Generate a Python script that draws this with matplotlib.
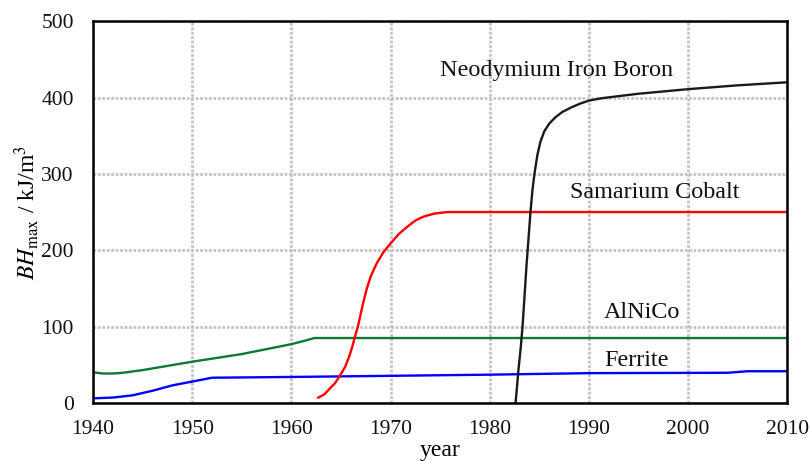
import matplotlib

matplotlib.use("Agg")

import matplotlib.pyplot as plt

plt.rcParams["font.family"] = "Liberation Serif"
plt.rcParams["mathtext.fontset"] = "stix"

# energy product history, kJ/m^3
ferrite_year = [1940, 1942, 1944, 1946, 1948, 1950, 1952, 1960, 1970, 1980, 1990, 2004, 2006, 2010]
ferrite_bh = [6, 7, 10, 16, 23, 28, 33, 34, 35.5, 37, 39, 39.5, 41.5, 41.5]

alnico_year = [1940, 1941, 1942, 1943, 1945, 1950, 1955, 1960, 1961.5, 1962.3, 1970, 1990, 2010]
alnico_bh = [40, 38.5, 38.5, 39.5, 43, 54, 64, 77, 82, 85, 85, 85, 85]

smco_year = [1962.7, 1963.3, 1963.8, 1964.4, 1964.9, 1965.4, 1965.8, 1966.1,
             1966.4, 1966.7, 1967.0, 1967.3, 1967.6, 1968.0, 1968.6, 1969.3,
             1970.0, 1970.8, 1971.7, 1972.5, 1973.3, 1974.4, 1975.7, 1990, 2010]
smco_bh = [7, 11, 18, 26, 36, 47, 60, 72, 87, 100, 118, 135, 150, 166, 183, 198,
           209, 221, 231, 239, 244, 248, 250, 250, 250]

ndfeb_year = [1982.6, 1982.9, 1983.1, 1983.3, 1983.5, 1983.7, 1983.9, 1984.1,
              1984.3, 1984.5, 1984.8, 1985.1, 1985.5, 1986.0, 1986.6, 1987.3,
              1988.2, 1989.1, 1990.0, 1991.2, 1995, 2000, 2005, 2010]
ndfeb_bh = [0, 45, 70, 100, 140, 180, 215, 250, 279, 300, 325, 342, 356, 366,
            374, 381, 387, 392, 396, 399, 405, 411, 416, 420]

labels = [
    ("Neodymium Iron Boron", 1975.0, 435),
    ("Samarium Cobalt", 1988.1, 276),
    ("AlNiCo", 1991.5, 119),
    ("Ferrite", 1991.5, 56),
]

fig = plt.figure(figsize=(8.1, 4.61), dpi=100)
ax = fig.add_axes([0.115, 0.126, 0.857, 0.828])

ax.plot(ferrite_year, ferrite_bh, color="#0000ff", lw=1.7)
ax.plot(alnico_year, alnico_bh, color="#0a7a35", lw=1.7)
ax.plot(smco_year, smco_bh, color="#ff0000", lw=1.7)
ax.plot(ndfeb_year, ndfeb_bh, color="#1a1a1a", lw=1.7)

for text, x, y in labels:
    ax.text(x, y, text, fontsize=17.4, va="center", ha="left", color="#111111")

ax.set_xlim(1940, 2010)
ax.set_ylim(0, 500)
ax.set_xticks(range(1940, 2011, 10))
ax.set_yticks(range(0, 501, 100))
ax.tick_params(length=0, labelsize=15.5, labelcolor="#111111")
ax.tick_params(axis="x", pad=12)
ax.tick_params(axis="y", pad=14)

ax.grid(True, color="#c4c4c4", linestyle=(0, (1.0, 0.6)), lw=2.0)
for s in ax.spines.values():
    s.set_linewidth(1.8)

ax.set_xlabel("year", fontsize=17, labelpad=1)
ax.set_ylabel(r"$\mathit{BH}_{\mathrm{max}}$ / kJ/m$^3$", fontsize=17, labelpad=0)

fig.savefig("out.png", dpi=100)
plt.close(fig)
